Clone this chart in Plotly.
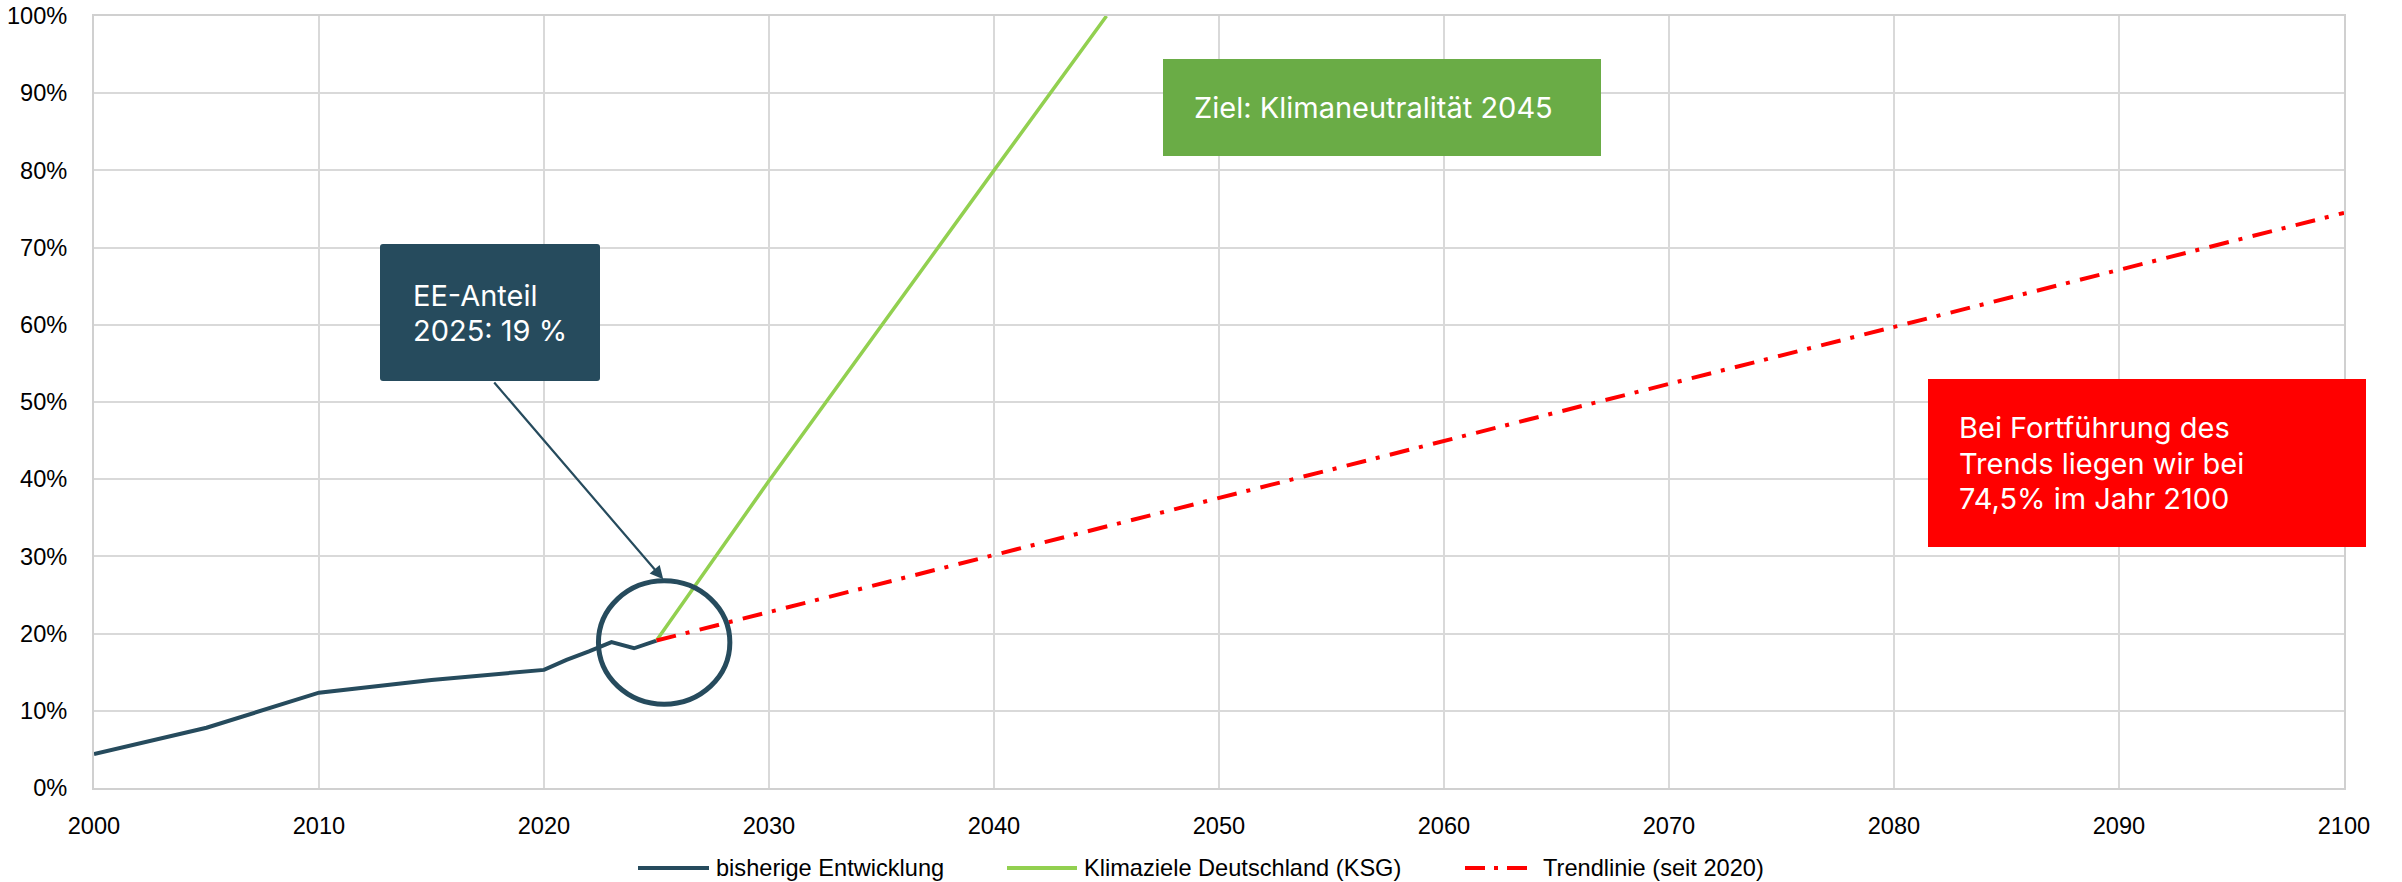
import plotly.graph_objects as go

# ---- data ----
hist_years = [2000, 2005, 2010, 2015, 2020, 2021, 2022, 2023, 2024, 2025]
hist_share = [4.4, 7.8, 12.35, 14.0, 15.3, 16.6, 17.7, 18.9, 18.1, 19.1]

ksg_years = [2025, 2030, 2040, 2045]
ksg_share = [19.1, 39.8, 80.0, 100.0]

trend_years = [2025, 2100]
trend_share = [19.1, 74.5]

series_names = ["bisherige Entwicklung", "Klimaziele Deutschland (KSG)", "Trendlinie (seit 2020)"]
x_ticks = list(range(2000, 2101, 10))
y_ticks = list(range(0, 101, 10))

DARK = "#264b5d"
GREEN = "#92d050"
RED = "#ff0000"
BOXGREEN = "#6aac46"
GRID = "#d9d9d9"
DASH = "20px,10px,4px,10.5px"

W, H = 2402, 882
L, R, T, B = 94, 2344, 16, 788


def px(x):
    return (x - L) / (R - L)


def py(y):
    return (B - y) / (B - T)


fig = go.Figure()
fig.add_trace(go.Scatter(x=hist_years, y=hist_share, mode="lines", name=series_names[0],
                         line=dict(color=DARK, width=4), showlegend=False))
fig.add_trace(go.Scatter(x=ksg_years, y=ksg_share, mode="lines", name=series_names[1],
                         line=dict(color=GREEN, width=3.5), showlegend=False))
fig.add_trace(go.Scatter(x=trend_years, y=trend_share, mode="lines", name=series_names[2],
                         line=dict(color=RED, width=4, dash=DASH), showlegend=False))

shapes = []
annos = []

# circle around 2025 value
shapes.append(dict(type="circle", xref="x", yref="y", x0=2022.42, x1=2028.26, y0=10.85, y1=26.84,
                   line=dict(color=DARK, width=5), layer="above"))


def rounded_rect(x0, y0, x1, y1, r, color):
    rx = r / (R - L)
    ry = r / (B - T)
    X0, X1 = px(x0), px(x1)
    Y0, Y1 = py(y1), py(y0)  # bottom, top in paper
    path = (f"M{X0+rx},{Y0} L{X1-rx},{Y0} Q{X1},{Y0} {X1},{Y0+ry} "
            f"L{X1},{Y1-ry} Q{X1},{Y1} {X1-rx},{Y1} L{X0+rx},{Y1} Q{X0},{Y1} {X0},{Y1-ry} "
            f"L{X0},{Y0+ry} Q{X0},{Y0} {X0+rx},{Y0} Z")
    return dict(type="path", xref="paper", yref="paper", path=path, fillcolor=color,
                line=dict(width=0), layer="above")


def rect(x0, y0, x1, y1, color):
    return dict(type="rect", xref="paper", yref="paper", x0=px(x0), x1=px(x1), y0=py(y1), y1=py(y0),
                fillcolor=color, line=dict(width=0), layer="above")


shapes.append(rounded_rect(380, 244, 600, 381, 3, DARK))
shapes.append(rect(1163, 59, 1601, 156, BOXGREEN))
shapes.append(rect(1928, 379, 2366, 547, RED))


def text(x, ycenter, s, size=29, family="Inter", color="white"):
    annos.append(dict(xref="paper", yref="paper", x=px(x), y=py(ycenter), text=s, showarrow=False,
                      xanchor="left", yanchor="middle", font=dict(family=family, size=size, color=color),
                      borderpad=0))


CAP = 0.364 * 29
text(412, 306 - CAP, "EE-Anteil")
text(412, 341 - CAP, "2025: 19 %")
text(1193, 118.3 - CAP, "Ziel: Klimaneutralität 2045")
text(1958, 438.3 - CAP, "Bei Fortführung des")
text(1958, 474 - CAP, "Trends liegen wir bei")
text(1958, 509 - CAP, "74,5% im Jahr 2100")

# arrow from box to circle
annos.append(dict(xref="x", yref="y", axref="x", ayref="y", x=2025.30, y=27.03, ax=2017.73, ay=52.72,
                  text="", showarrow=True, arrowhead=2, arrowsize=1.2, arrowwidth=2.2, arrowcolor=DARK,
                  standoff=0, startstandoff=0))

# custom legend
LEG_Y = 868
legend_items = [
    (638, 709, 716, DARK, None),
    (1007, 1077, 1084, GREEN, None),
    (1465, 1529, 1543, RED, DASH),
]
for (x0, x1, xt, col, dash), name in zip(legend_items, series_names):
    ln = dict(color=col, width=4)
    if dash:
        ln["dash"] = "20px,9px,4px,9px"
    shapes.append(dict(type="line", xref="paper", yref="paper", x0=px(x0), x1=px(x1), y0=py(LEG_Y), y1=py(LEG_Y),
                       line=ln))
    annos.append(dict(xref="paper", yref="paper", x=px(xt - 1), y=py(LEG_Y), text=name, showarrow=False,
                      xanchor="left", yanchor="middle", borderpad=0,
                      font=dict(family="Arial, Liberation Sans", size=23.6, color="#000000")))

fig.update_layout(
    width=W, height=H,
    margin=dict(l=L, r=W - R, t=T, b=H - B, pad=0, autoexpand=False),
    paper_bgcolor="white", plot_bgcolor="white",
    font=dict(family="Arial, Liberation Sans", size=23.6, color="#000000"),
    shapes=shapes, annotations=annos, showlegend=False,
)
fig.update_xaxes(range=[2000, 2100], tickvals=x_ticks, ticktext=[str(v) for v in x_ticks],
                 showgrid=True, gridcolor=GRID, gridwidth=1.6, showline=True, linecolor="#d0d0d0",
                 linewidth=2, mirror=True, ticks="", ticklabelstandoff=16, zeroline=False, automargin=False)
fig.update_yaxes(range=[0, 100], tickvals=y_ticks, ticktext=[f"{v}%" for v in y_ticks],
                 showgrid=True, gridcolor=GRID, gridwidth=1.6, showline=True, linecolor="#d0d0d0",
                 linewidth=2, mirror=True, ticks="", ticklabelstandoff=20, zeroline=False, automargin=False)

fig.write_html("out.html", config={"displayModeBar": False},
               post_script="document.body.style.margin='0';")
